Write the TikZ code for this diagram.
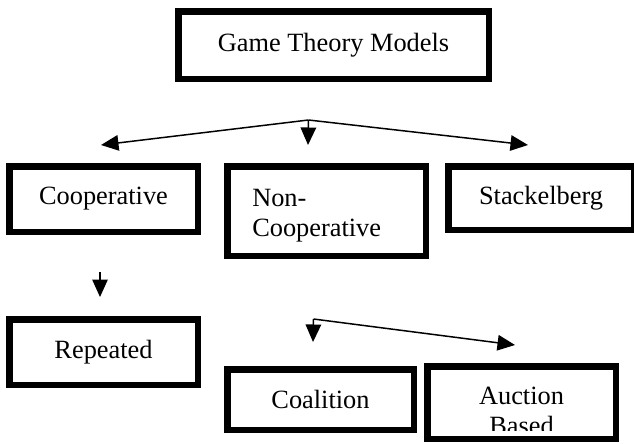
\documentclass[tikz,border=0pt]{standalone}
\usepackage{fontspec}
\setmainfont{Liberation Serif}
\usepackage{tikz}
\usetikzlibrary{arrows.meta}

\tikzset{
  model/.style={draw=black, line width=3.7pt, fill=white, inner sep=0pt, align=center,
    font=\fontsize{15}{17}\selectfont},
  link/.style={color=black, line width=0.85pt, -{Triangle[length=0.35cm,width=0.31cm]}}
}

\begin{document}
\begin{tikzpicture}
\useasboundingbox (0,0) rectangle (12.68,-8.86);
\begin{scope}
\clip (0,0) rectangle (12.68,-8.86);

\node[model, minimum width=6.21cm, minimum height=1.35cm] (gtm) at (6.67,-0.90) {Game Theory Models};

\node[model, minimum width=3.77cm, minimum height=1.31cm] (coop) at (2.07,-3.98) {Cooperative};
\node[model, minimum height=1.79cm, text width=3.1cm, inner xsep=0.435cm, align=left] (noncoop) at (6.53,-4.22) {};
\node[model, minimum width=3.71cm, minimum height=1.27cm] (stack) at (10.82,-3.96) {Stackelberg};

\node[model, minimum width=3.77cm, minimum height=1.31cm] (rep) at (2.07,-7.04) {Repeated};
\node[model, minimum width=3.73cm, minimum height=1.21cm] (coal) at (6.41,-7.99) {Coalition};
\node[model, minimum width=3.77cm, minimum height=1.45cm] (auct) at (10.43,-8.05) {};
\end{scope}

\node[model, draw=none, fill=none, align=left, anchor=west] (noncooptxt) at (4.98,-4.31) {Non-\\Cooperative};

\begin{scope}
\clip (auct.north west) rectangle (12.68,-8.60);
\node[model, draw=none, fill=none] (aucttxt) at (10.43,-8.21) {Auction\\Based};
\end{scope}

% arrows from the top box
\coordinate (split1) at (6.17,-2.40);
\coordinate (tocoop) at (2.02,-2.90);
\coordinate (tononcoop) at (6.16,-2.90);
\coordinate (tostack) at (10.56,-2.90);
\draw[link] (split1) -- (tocoop);
\draw[link] (split1) -- (tononcoop);
\draw[link] (split1) -- (tostack);

% cooperative -> repeated
\coordinate (fromcoop) at (2.00,-5.44);
\coordinate (torep) at (2.00,-5.94);
\draw[link] (fromcoop) -- (torep);

% non-cooperative -> coalition, auction
\coordinate (split2) at (6.27,-6.38);
\coordinate (tocoal) at (6.26,-6.84);
\coordinate (toauct) at (10.30,-6.90);
\draw[link] (split2) -- (tocoal);
\draw[link] (split2) -- (toauct);
\end{tikzpicture}
\end{document}
